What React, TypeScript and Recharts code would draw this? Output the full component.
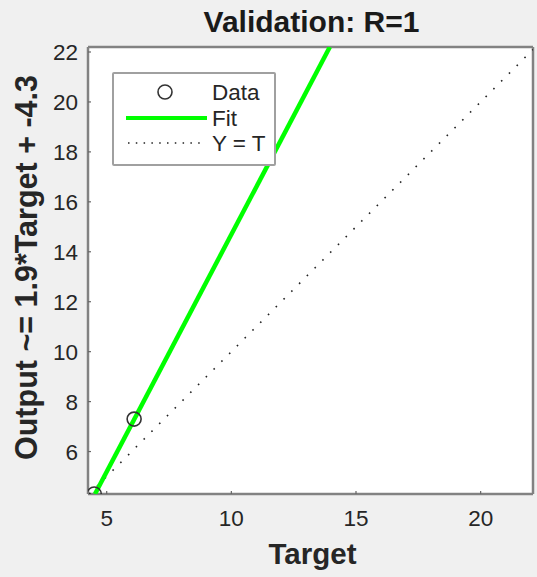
import React from 'react';
import { ComposedChart, Scatter, XAxis, YAxis, CartesianGrid } from 'recharts';

const targets = [4.5, 6.1];
const outputs = [4.3, 7.3];
const fitX = [4.53, 13.95];
const fitY = [4.3, 22.2];
const idX = [4.3, 22.1];
const idY = [4.3, 22.1];
const xTicks = [5, 10, 15, 20];
const yTicks = [6, 8, 10, 12, 14, 16, 18, 20, 22];
const xDomain = [4.25, 22.1];
const yDomain = [4.3, 22.2];

const dataPts = targets.map((t, i) => ({ x: t, y: outputs[i] }));
const fitPts = fitX.map((t, i) => ({ x: t, y: fitY[i] }));
const idPts = idX.map((t, i) => ({ x: t, y: idY[i] }));

const FONT = '"Liberation Sans", Arial, Helvetica, sans-serif';
const AXIS = '#828282';
const TXT = '#262626';

const Circle = (props: any) => {
  const { cx, cy } = props;
  if (cx == null || cy == null) return null;
  return <circle cx={cx} cy={cy} r={7} fill="none" stroke="#333" strokeWidth={1.6} />;
};
const NoShape = () => null;

const TitleLabel = (props: any) => {
  const vb = props.viewBox || {};
  return (
    <text x={vb.x + vb.width / 2 + 1} y={32} textAnchor="middle" fontFamily={FONT} fontWeight="bold" fontSize={30} fill="#1a1a1a">
      Validation: R=1
    </text>
  );
};
const XLabel = (props: any) => {
  const vb = props.viewBox || {};
  return (
    <text x={vb.x + vb.width / 2 + 2} y={vb.y + 70} textAnchor="middle" fontFamily={FONT} fontWeight="bold" fontSize={29.5} fill={TXT}>
      Target
    </text>
  );
};
const YLabel = (props: any) => {
  const vb = props.viewBox || {};
  const cx = 26;
  const cy = vb.y + vb.height / 2 - 3;
  return (
    <text x={cx} y={cy} transform={`rotate(-90 ${cx} ${cy})`} textAnchor="middle" dominantBaseline="central" fontFamily={FONT} fontWeight="bold" fontSize={30.5} fill={TXT}>
      Output ~= 1.9*Target + -4.3
    </text>
  );
};

const LegendBox = () => (
  <div style={{ position: 'absolute', left: 112, top: 72, width: 160, height: 90, border: '2px solid #a0a0a0', borderRadius: 2, background: '#fff' }}>
    <svg width={160} height={90} style={{ display: 'block' }}>
      <circle cx={51} cy={18} r={7} fill="none" stroke="#333" strokeWidth={1.6} />
      <text x={98} y={18} dominantBaseline="central" fontFamily={FONT} fontSize={22.5} fill={TXT}>Data</text>
      <line x1={12} y1={44} x2={93} y2={44} stroke="#00ff00" strokeWidth={4} />
      <text x={98} y={44} dominantBaseline="central" fontFamily={FONT} fontSize={22.5} fill={TXT}>Fit</text>
      <line x1={14} y1={69} x2={92} y2={69} stroke="#222" strokeWidth={1.5} strokeDasharray="1.5 6.3" />
      <text x={98} y={69} dominantBaseline="central" fontFamily={FONT} fontSize={22.5} fill={TXT}>Y = T</text>
    </svg>
  </div>
);

export default function App() {
  const tickStyle = { fill: TXT, fontSize: 22.5, fontFamily: FONT };
  const axisLine = { stroke: AXIS, strokeWidth: 2.5 };
  const tickLine = { stroke: '#666', strokeWidth: 1.2 };
  return (
    <div style={{ position: 'absolute', left: 0, top: 0, width: 537, height: 577, background: '#f0f0f0' }}>
      <ComposedChart width={537} height={577} margin={{ top: 0, right: 0, bottom: 0, left: 0 }}>
        <CartesianGrid horizontal={false} vertical={false} fill="#ffffff" stroke="none" />
        <XAxis
          xAxisId="b"
          dataKey="x"
          type="number"
          domain={xDomain}
          ticks={xTicks}
          allowDataOverflow
          orientation="bottom"
          height={83}
          tickSize={-3}
          tickMargin={19}
          tick={tickStyle}
          axisLine={axisLine}
          tickLine={tickLine}
          label={<XLabel />}
        />
        <XAxis
          xAxisId="t"
          dataKey="x"
          type="number"
          domain={xDomain}
          ticks={xTicks}
          allowDataOverflow
          orientation="top"
          height={47}
          tickSize={-3}
          tick={false}
          axisLine={axisLine}
          tickLine={tickLine}
          label={<TitleLabel />}
        />
        <YAxis
          yAxisId="l"
          dataKey="y"
          type="number"
          domain={yDomain}
          ticks={yTicks}
          allowDataOverflow
          orientation="left"
          width={88}
          tickSize={-3}
          tickMargin={13}
          tick={tickStyle}
          axisLine={axisLine}
          tickLine={tickLine}
          label={<YLabel />}
        />
        <YAxis
          yAxisId="r"
          dataKey="y"
          type="number"
          domain={yDomain}
          ticks={yTicks}
          allowDataOverflow
          orientation="right"
          width={4}
          tickSize={-3}
          tick={false}
          axisLine={axisLine}
          tickLine={tickLine}
        />
        <Scatter xAxisId="b" yAxisId="l" data={idPts} dataKey="y" shape={<NoShape />} line={{ stroke: '#222', strokeWidth: 1.6, strokeDasharray: '1.6 9.4' }} isAnimationActive={false} />
        <Scatter xAxisId="b" yAxisId="l" data={fitPts} dataKey="y" shape={<NoShape />} line={{ stroke: '#00ff00', strokeWidth: 4.5 }} isAnimationActive={false} />
        <Scatter xAxisId="b" yAxisId="l" data={dataPts} dataKey="y" shape={<Circle />} isAnimationActive={false} />
      </ComposedChart>
      <LegendBox />
    </div>
  );
}
